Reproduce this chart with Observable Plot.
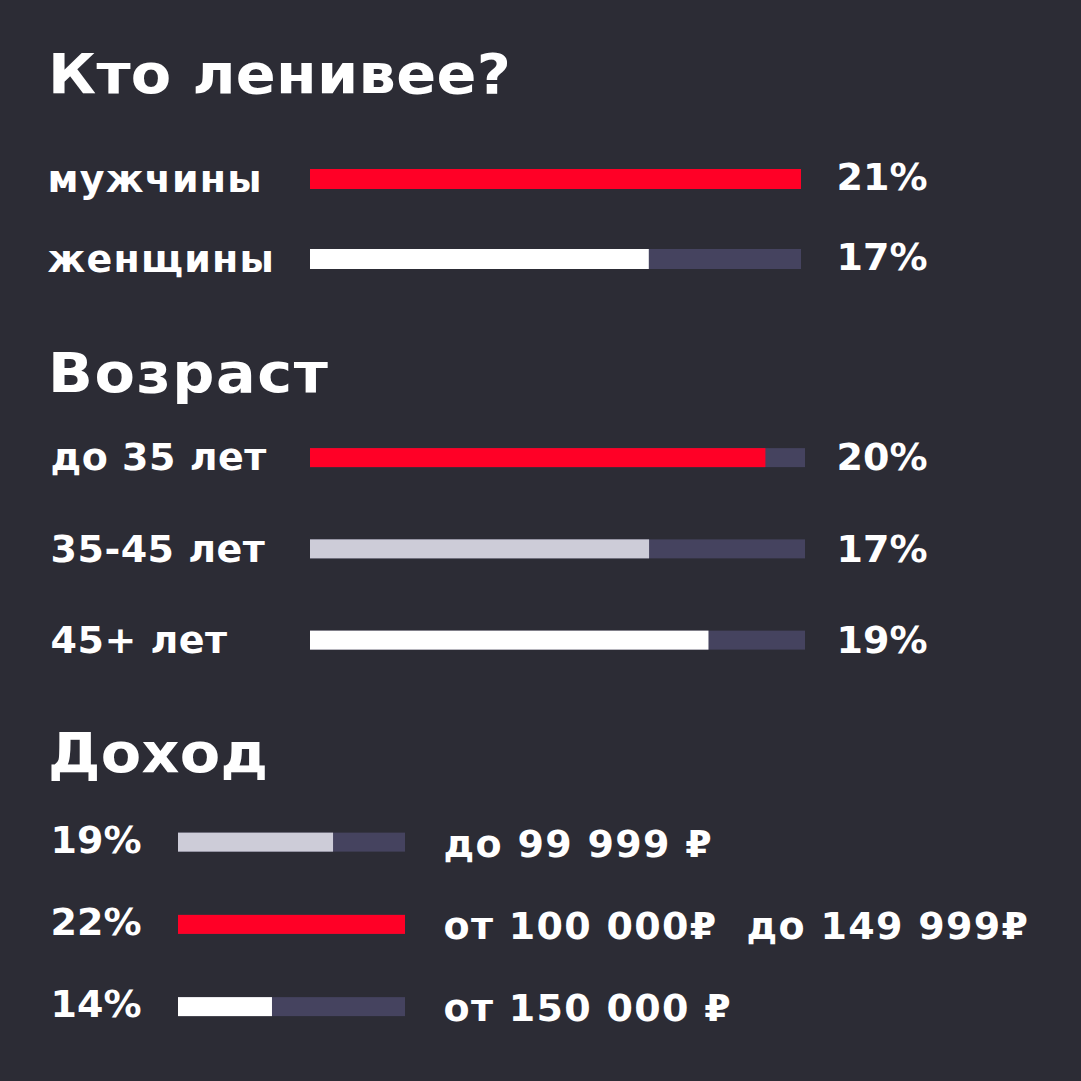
<!DOCTYPE html>
<html>
<head>
<meta charset="utf-8">
<script src="https://cdn.jsdelivr.net/npm/d3@7"></script>
<script src="https://cdn.jsdelivr.net/npm/@observablehq/plot@0.6"></script>
<style>
  html, body { margin: 0; padding: 0; background: #2c2c35; }
  #wrap { position: relative; width: 1081px; height: 1081px; background: #2c2c35; overflow: hidden; font-family: "DejaVu Sans", sans-serif; }
  .h { position: absolute; left: 48px; color: #ffffff; font-size: 55px; font-weight: bold; line-height: 55px; white-space: pre; transform: scaleX(1.07); transform-origin: 0 0; }
  .sec { position: absolute; left: 0; }
</style>
</head>
<body>
<div id="wrap"></div>
<script>
// ---- data ----
const titles = ["Кто ленивее?", "Возраст", "Доход"];

const genderLabels = ["мужчины", "женщины"];
const genderPct = [21, 17];
const genderBar = [1.00, 0.69];      // bar fill share of the track

const ageLabels = ["до 35 лет", "35-45 лет", "45+ лет"];
const agePct = [20, 17, 19];
const ageBar = [0.92, 0.685, 0.805];

const incomeLabels = ["до 99 999 ₽", "от 100 000₽\u00a0 до 149 999₽", "от 150 000 ₽"];
const incomePct = [19, 22, 14];
const incomeBar = [0.683, 1.00, 0.414];

// ---- styles ----
const RED = "#ff0026", WHITE = "#ffffff", GREY = "#cdccd8", TRACK = "#45435f";
const FONT = "DejaVu Sans";

const wrap = document.getElementById("wrap");

function heading(text, top, spacing) {
  const d = document.createElement("div");
  d.className = "h";
  d.style.top = top + "px";
  if (spacing != null) d.style.letterSpacing = spacing + "px";
  d.textContent = text;
  wrap.appendChild(d);
}

function section({labels, pct, bar, colors, top, step, barH, x0, x1, labelX, pctX, labelDy = 0, pctDy = 0, labelSpacing = 0, pctSpacing = 0}) {
  const n = labels.length;
  const rows = labels.map((label, i) => ({label, pct: pct[i], bar: bar[i], color: colors[i]}));
  const pi = 1 - barH / step;
  const H = step * n;
  const chart = Plot.plot({
    width: 1081,
    height: H,
    margin: 0,
    x: {domain: [0, 1], range: [x0, x1], axis: null},
    y: {type: "band", domain: labels, range: [0, H], paddingInner: pi, paddingOuter: pi / 2, round: false, axis: null},
    color: {type: "identity"},
    style: {background: "transparent", fontFamily: FONT, color: WHITE, overflow: "visible"},
    marks: [
      Plot.barX(rows, {y: "label", x1: 0, x2: 1, fill: TRACK}),
      Plot.barX(rows, {y: "label", x1: 0, x2: "bar", fill: "color"}),
      Plot.text(rows, {y: "label", text: "label", frameAnchor: "left", textAnchor: "start", dx: labelX, dy: labelDy,
        fontSize: 38, fontWeight: "bold", fill: WHITE}),
      Plot.text(rows, {y: "label", text: d => d.pct + "%", frameAnchor: "left", textAnchor: "start", dx: pctX, dy: pctDy,
        fontSize: 38, fontWeight: "bold", fill: WHITE})
    ]
  });
  const groups = chart.querySelectorAll('g[aria-label="text"]');
  if (groups[0]) groups[0].style.letterSpacing = labelSpacing + "px";
  if (groups[1]) groups[1].style.letterSpacing = pctSpacing + "px";
  chart.classList.add("sec");
  chart.style.top = top + "px";
  wrap.appendChild(chart);
}

heading(titles[0], 47, 0.3);
section({labels: genderLabels, pct: genderPct, bar: genderBar, colors: [RED, WHITE],
  top: 139, step: 80, barH: 20, x0: 310, x1: 801, labelX: 47, pctX: 836, pctDy: -2, labelSpacing: 1.2});

heading(titles[1], 346, 1.5);
section({labels: ageLabels, pct: agePct, bar: ageBar, colors: [RED, GREY, WHITE],
  top: 412, step: 91.25, barH: 19, x0: 310, x1: 805, labelX: 50, pctX: 836, labelSpacing: 0.5});

heading(titles[2], 726, 0.3);
section({labels: incomeLabels, pct: incomePct, bar: incomeBar, colors: [GREY, RED, WHITE],
  top: 801, step: 82.25, barH: 19, x0: 178, x1: 405, labelX: 443, pctX: 50, labelDy: 2, pctDy: -2, labelSpacing: 1.3});
</script>
</body>
</html>
